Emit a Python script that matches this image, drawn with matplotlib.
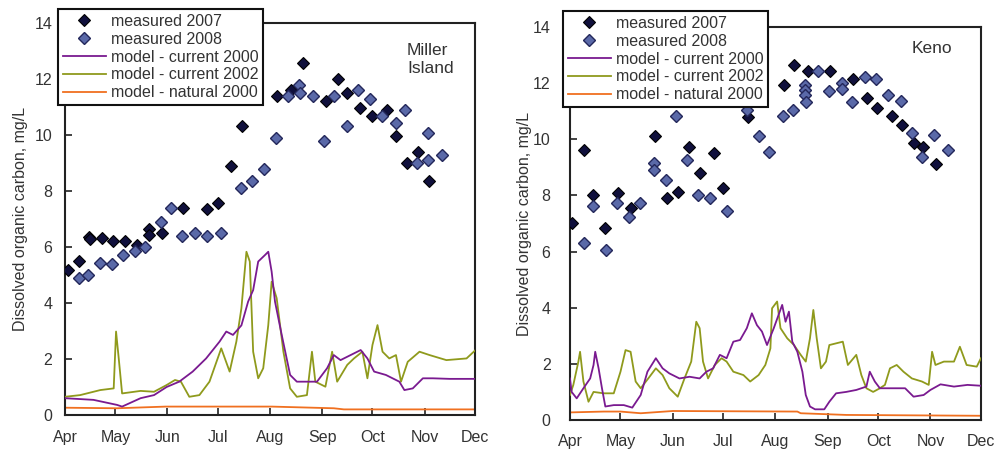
import matplotlib
matplotlib.use('Agg')
import matplotlib.pyplot as plt
from matplotlib.lines import Line2D

plt.rcParams['font.family'] = ['Liberation Sans', 'DejaVu Sans']

# x values are days after April 1
months = ['Apr', 'May', 'Jun', 'Jul', 'Aug', 'Sep', 'Oct', 'Nov', 'Dec']
month_days = [0, 30, 61, 91, 122, 153, 183, 214, 244]

# ---- Miller Island ----
mi_07_day = [1.6, 8.5, 14.5, 15, 21.8, 28.8, 35.7, 42.7, 50.2, 50.2, 57.5, 70.4, 84.3, 91.2,
             98.8, 105.5, 126.4, 134.5, 141.4, 155.3, 162.6, 167.6, 175.6, 182.5, 191.5,
             196.9, 203.5, 209.9, 216.8]
mi_07_val = [5.18, 5.51, 6.37, 6.3, 6.31, 6.21, 6.21, 6.07, 6.63, 6.43, 6.51, 7.4, 7.36, 7.58,
             8.89, 10.32, 11.39, 11.6, 12.58, 11.21, 12.01, 11.51, 10.95, 10.68, 10.89,
             9.98, 8.99, 9.38, 8.37]
mi_08_day = [8.5, 13.9, 20.8, 27.8, 34.7, 41.7, 47.6, 57.1, 63.1, 69.8, 77.4, 84.3, 92.6,
             104.5, 111.5, 118.6, 125.8, 132.5, 139.5, 139.8, 147.8, 154.1, 160.3, 167.6,
             174.6, 181.7, 188.9, 196.9, 202.3, 209.3, 216.2, 216.2, 224.1]
mi_08_val = [4.9, 5.0, 5.42, 5.39, 5.7, 5.85, 5.99, 6.9, 7.4, 6.39, 6.5, 6.39, 6.51,
             8.09, 8.37, 8.8, 9.9, 11.39, 11.79, 11.49, 11.39, 9.8, 11.39, 10.32,
             11.61, 11.3, 10.68, 10.42, 10.89, 8.99, 10.08, 9.1, 9.29]

mi_c00_day = [0, 17, 31, 34, 45, 53, 60.5, 68, 76, 84, 92, 96, 100, 105, 109, 112, 115, 119,
              121, 123, 125, 129, 134, 138, 144, 150, 156, 160, 164, 170, 176, 180, 184, 191,
              199, 202, 207, 213, 219, 229, 244]
mi_c00_val = [0.6, 0.54, 0.36, 0.3, 0.6, 0.71, 1.0, 1.19, 1.55, 2.02, 2.62, 2.98, 2.86, 3.2,
              4.05, 4.46, 5.48, 5.71, 5.83, 5.12, 4.05, 2.86, 1.43, 1.19, 1.19, 1.19, 1.67,
              2.14, 1.96, 2.14, 2.32, 2.02, 1.55, 1.43, 1.19, 0.89, 0.95, 1.31, 1.31, 1.29, 1.29]
mi_c02_day = [0, 9, 21, 29, 30.4, 32, 34, 45, 53, 60.5, 65.5, 69, 74, 80, 86, 93, 98, 102,
              105, 108, 110, 112, 115, 118, 121, 123, 126, 130, 134, 138, 144, 147, 149, 155,
              159, 162, 168, 172, 177, 180, 183, 186, 189, 193, 197, 200, 204, 211, 217, 227,
              239, 244]
mi_c02_val = [0.65, 0.71, 0.89, 0.95, 2.98, 2.02, 0.77, 0.86, 0.83, 1.07, 1.25, 1.19, 0.65,
              0.71, 1.19, 2.38, 1.55, 2.62, 3.81, 5.83, 5.48, 2.26, 1.31, 1.67, 3.21, 4.76,
              4.17, 2.26, 0.95, 0.65, 0.71, 2.26, 1.19, 1.01, 2.26, 1.19, 1.79, 2.02, 2.26,
              1.31, 2.5, 3.21, 2.26, 2.02, 2.14, 1.19, 1.9, 2.26, 2.14, 1.96, 2.02, 2.3]
mi_n00_day = [0, 31, 60, 123, 160, 166, 244]
mi_n00_val = [0.26, 0.24, 0.3, 0.3, 0.24, 0.2, 0.2]

# ---- Keno ----
ke_07_day = [1.0, 8.5, 13.8, 20.8, 28.3, 36, 50.5, 57.4, 64.3, 70.8, 77.2, 85.5, 91, 105.5,
             127, 133.2, 141.5, 154.4, 168.2, 176.1, 182.1, 191, 196.9, 204.2, 209.8, 217.1]
ke_07_val = [7.0, 9.62, 8.02, 6.83, 8.1, 7.54, 10.13, 7.92, 8.11, 9.72, 8.81, 9.52, 8.25, 10.8,
             11.93, 12.65, 12.44, 12.44, 12.14, 11.46, 11.1, 10.83, 10.51, 9.86, 9.72, 9.12]
ke_08_day = [8.5, 13.5, 21.4, 27.7, 35.2, 41.6, 49.9, 49.9, 57, 62.9, 69.3, 76.2, 83.1, 93,
             104.9, 112.4, 118.2, 126.6, 132.2, 139.5, 139.5, 139.5, 140, 147.4, 154, 161.3,
             161.3, 167.2, 175.1, 181.7, 189, 196.5, 202.9, 209.2, 216.1, 224.6]
ke_08_val = [6.32, 7.63, 6.06, 7.72, 7.22, 7.72, 9.14, 8.9, 8.55, 10.84, 9.26, 8.02, 7.92, 7.46,
             11.04, 10.13, 9.56, 10.83, 11.04, 11.93, 11.75, 11.57, 11.33, 12.44, 11.73, 12.02,
             11.8, 11.34, 12.23, 12.16, 11.58, 11.38, 10.24, 9.36, 10.15, 9.62]

ke_c00_day = [0, 1, 4, 8, 12, 14, 15, 17, 19, 21, 26, 32, 37, 42, 46, 51, 55, 59, 65, 71, 77,
              81, 85, 89, 93, 97, 101, 105, 108, 111, 114, 117, 121, 126, 128, 130, 132, 135,
              138, 140, 142.5, 145.5, 151, 154, 158, 164, 170, 176, 178, 181, 184, 192, 199,
              204, 210, 214, 220, 228, 236, 244]
ke_c00_val = [1.48, 1.0, 0.77, 1.13, 1.48, 1.96, 2.43, 1.84, 1.13, 0.48, 0.53, 0.53, 0.44,
              0.89, 1.72, 2.2, 1.84, 1.66, 1.48, 1.54, 1.48, 1.72, 1.84, 2.32, 2.2, 2.79, 2.85,
              3.27, 3.8, 3.38, 3.15, 2.67, 3.27, 4.1, 3.5, 3.86, 2.79, 2.43, 1.72, 0.89, 0.48,
              0.38, 0.38, 0.65, 0.95, 1.0, 1.07, 1.19, 1.72, 1.37, 1.13, 1.13, 1.13, 0.83,
              0.89, 1.07, 1.27, 1.19, 1.25, 1.22]
ke_c02_day = [0, 2, 5, 6, 8, 11, 14, 20, 26, 30, 33, 36, 39, 42, 46.5, 51, 55, 59, 64, 68, 72,
              75, 77, 79, 82, 86, 90, 93, 97, 103, 107, 112, 116, 119, 120, 123, 125, 129, 133,
              137, 140, 142.5, 144.5, 146.5, 149, 152, 154, 158, 162, 165, 170, 173, 176, 180,
              184, 187, 190, 194, 198, 203, 209, 213, 215, 217, 222, 228, 231.5, 235.5, 241.5,
              244]
ke_c02_val = [0.89, 1.25, 2.08, 2.43, 1.37, 0.65, 1.0, 0.95, 0.95, 1.72, 2.49, 2.43, 1.37,
              1.13, 1.48, 1.84, 1.6, 1.13, 0.83, 1.48, 2.08, 3.5, 3.27, 2.08, 1.48, 1.96, 2.2,
              2.08, 1.72, 1.6, 1.37, 1.6, 1.96, 2.55, 3.98, 4.22, 3.27, 2.91, 2.67, 2.32, 2.08,
              2.91, 3.92, 2.91, 1.84, 2.08, 2.67, 2.73, 2.79, 1.96, 2.32, 1.6, 1.13, 1.0, 1.13,
              1.25, 1.84, 1.96, 1.72, 1.48, 1.37, 1.25, 2.43, 1.96, 2.08, 2.08, 2.61, 1.96, 1.9,
              2.2]
ke_n00_day = [0, 20, 30, 42, 61, 135, 137, 164, 244]
ke_n00_val = [0.27, 0.3, 0.3, 0.24, 0.32, 0.3, 0.24, 0.18, 0.15]

c07 = '#10103c'
c08_face = '#5a69a8'
c08_edge = '#23275a'
c_c00 = '#7a1a90'
c_c02 = '#8f9a1c'
c_n00 = '#f07020'
txt = '#333333'

fig = plt.figure(figsize=(9.98, 4.5), dpi=100)
ax1 = fig.add_axes([0.0651, 0.0778, 0.4108, 0.8711])
ax2 = fig.add_axes([0.5711, 0.0667, 0.4118, 0.8733])

panels = [
    (ax1, mi_07_day, mi_07_val, mi_08_day, mi_08_val, mi_c00_day, mi_c00_val,
     mi_c02_day, mi_c02_val, mi_n00_day, mi_n00_val, 'Miller\nIsland', 0.834, 0.95, 9, 11, 21 / 998,
     (58 / 998, 1 - 9 / 450)),
    (ax2, ke_07_day, ke_07_val, ke_08_day, ke_08_val, ke_c00_day, ke_c00_val,
     ke_c02_day, ke_c02_val, ke_n00_day, ke_n00_val, 'Keno', 0.832, 0.965, 14, 10, 525 / 998,
     (563 / 998, 1 - 11 / 450)),
]

for (ax, d07, v07, d08, v08, dc0, vc0, dc2, vc2, dn, vn, name, tx, ty,
     ypad, xpad, ylx, leg_pos) in panels:
    ax.plot(dn, vn, color=c_n00, lw=1.3, zorder=2)
    ax.plot(dc2, vc2, color=c_c02, lw=1.3, zorder=3)
    ax.plot(dc0, vc0, color=c_c00, lw=1.3, zorder=4)
    ax.plot(d07, v07, ls='none', marker='D', ms=5.8, mfc=c07, mec='black', mew=0.8, zorder=5)
    ax.plot(d08, v08, ls='none', marker='D', ms=5.8, mfc=c08_face, mec=c08_edge, mew=1.0, zorder=5)

    ax.set_xlim(0, 244)
    ax.set_ylim(0, 14)
    ax.set_xticks(month_days)
    ax.set_xticklabels(months)
    ax.set_yticks(range(0, 15, 2))
    ax.tick_params(direction='in', length=5, width=1.2, labelsize=11.5, colors='#222222',
                   labelcolor=txt)
    ax.tick_params(axis='y', pad=ypad)
    ax.tick_params(axis='x', pad=xpad)
    for s in ax.spines.values():
        s.set_linewidth(1.5)
        s.set_color('#222222')

    ax.text(tx, ty, name, transform=ax.transAxes, ha='left', va='top', fontsize=12.5,
            color=txt, linespacing=1.25)
    fig.text(ylx, ax.get_position().y0 + ax.get_position().height / 2,
             'Dissolved organic carbon, mg/L', rotation=90, ha='center', va='center',
             fontsize=11.5, color=txt)

    handles = [
        Line2D([], [], ls='none', marker='D', ms=5.8, mfc=c07, mec='black', mew=0.8),
        Line2D([], [], ls='none', marker='D', ms=5.8, mfc=c08_face, mec=c08_edge, mew=1.0),
        Line2D([], [], color=c_c00, lw=1.3),
        Line2D([], [], color=c_c02, lw=1.3),
        Line2D([], [], color=c_n00, lw=1.3),
    ]
    labels = ['measured 2007', 'measured 2008', 'model - current 2000',
              'model - current 2002', 'model - natural 2000']
    leg = fig.legend(handles, labels, loc='upper left', bbox_to_anchor=leg_pos,
                     bbox_transform=fig.transFigure, fontsize=11.5, frameon=True,
                     fancybox=False, framealpha=1, edgecolor='#111111', borderpad=0.3,
                     labelspacing=0.18, handlelength=2.7, handletextpad=0.3,
                     borderaxespad=0)
    leg.get_frame().set_linewidth(1.5)
    for t in leg.get_texts():
        t.set_color(txt)

fig.savefig('out.png', dpi=100)
